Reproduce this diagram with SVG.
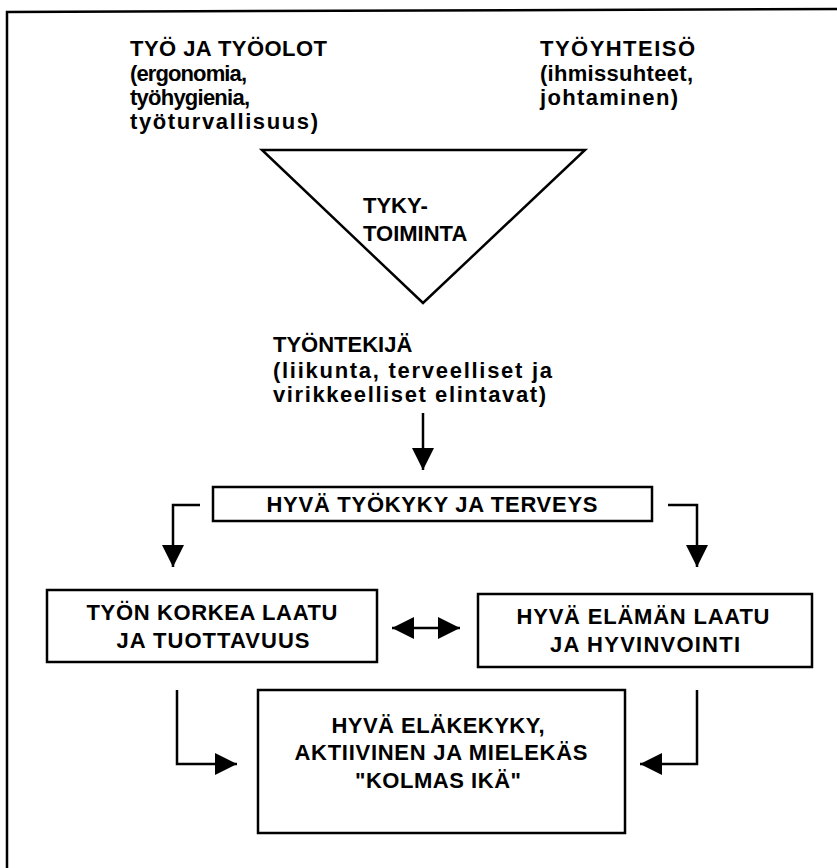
<svg xmlns="http://www.w3.org/2000/svg" width="837" height="868" viewBox="0 0 837 868">
<defs>
<style>
text{font-family:"Liberation Sans",Arial,sans-serif;font-size:22px;fill:#000;font-weight:bold}
.c{text-anchor:middle}
.box{fill:none;stroke:#000;stroke-width:2.5}
.ln{fill:none;stroke:#000;stroke-width:2.5}
</style>
<marker id="big" viewBox="0 0 10 10" refX="10" refY="5" markerWidth="22" markerHeight="22" markerUnits="userSpaceOnUse" orient="auto-start-reverse"><path d="M0,0 L10,5 L0,10 z" fill="#000"/></marker>
</defs>
<rect width="837" height="868" fill="#fff"/>
<path class="ln" d="M7,868 V12 L837,9" stroke-width="3"/>
<g id="tyo">
<text x="130" y="56" textLength="197" lengthAdjust="spacing">TYÖ JA TYÖOLOT</text>
<text x="130" y="81" textLength="117" lengthAdjust="spacing">(ergonomia,</text>
<text x="130" y="105" textLength="120" lengthAdjust="spacing">työhygienia,</text>
<text x="130" y="129" textLength="188" lengthAdjust="spacing">työturvallisuus)</text>
</g>
<g id="tyoyhteiso">
<text x="540" y="56" textLength="155" lengthAdjust="spacing">TYÖYHTEISÖ</text>
<text x="540" y="81" textLength="153" lengthAdjust="spacing">(ihmissuhteet,</text>
<text x="540" y="105" textLength="138" lengthAdjust="spacing">johtaminen)</text>
</g>
<g id="tyky">
<path class="box" d="M262,150 H585 L423,303 Z"/>
<text x="363" y="213">TYKY-</text>
<text x="363" y="241">TOIMINTA</text>
</g>
<g id="tyontekija">
<text x="273" y="352">TYÖNTEKIJÄ</text>
<text x="273" y="378" textLength="279" lengthAdjust="spacing">(liikunta, terveelliset ja</text>
<text x="273" y="402" textLength="273" lengthAdjust="spacing">virikkeelliset elintavat)</text>
</g>
<g id="tyokyky">
<rect class="box" x="213" y="487" width="439" height="34"/>
<text class="c" x="432" y="512" textLength="331" lengthAdjust="spacing">HYVÄ TYÖKYKY JA TERVEYS</text>
</g>
<g id="laatu">
<rect class="box" x="47" y="590" width="330" height="72"/>
<text class="c" x="212" y="620" textLength="251" lengthAdjust="spacing">TYÖN KORKEA LAATU</text>
<text class="c" x="213" y="648" textLength="193" lengthAdjust="spacing">JA TUOTTAVUUS</text>
</g>
<g id="elama">
<rect class="box" x="478" y="594" width="334" height="73"/>
<text class="c" x="643" y="624" textLength="253" lengthAdjust="spacing">HYVÄ ELÄMÄN LAATU</text>
<text class="c" x="645" y="652" textLength="190" lengthAdjust="spacing">JA HYVINVOINTI</text>
</g>
<g id="elake">
<rect class="box" x="258" y="690" width="367" height="143"/>
<text class="c" x="438" y="733" textLength="213" lengthAdjust="spacing">HYVÄ ELÄKEKYKY,</text>
<text class="c" x="441" y="760" textLength="293" lengthAdjust="spacing">AKTIIVINEN JA MIELEKÄS</text>
<text class="c" x="438" y="788" textLength="166" lengthAdjust="spacing">"KOLMAS IKÄ"</text>
</g>
<g id="connectors">
<path class="ln" d="M423,413 V470" marker-end="url(#big)"/>
<path class="ln" d="M200,505 H173 V567" marker-end="url(#big)"/>
<path class="ln" d="M668,505 H697 V567" marker-end="url(#big)"/>
<path class="ln" d="M392,628 H460" marker-start="url(#big)" marker-end="url(#big)"/>
<path class="ln" d="M177,690 V764 H237" marker-end="url(#big)"/>
<path class="ln" d="M697,690 V764 H640" marker-end="url(#big)"/>
</g>
</svg>
